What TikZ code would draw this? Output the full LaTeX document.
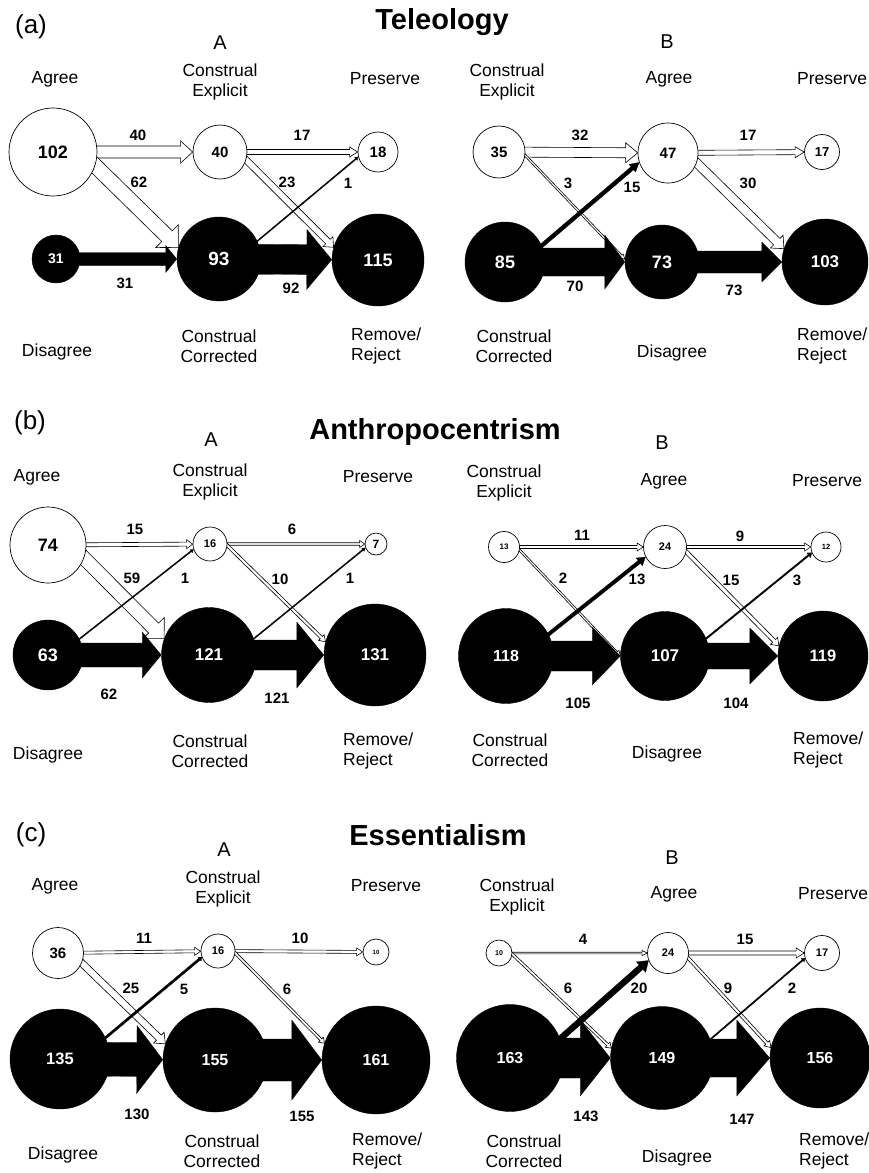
\documentclass[tikz,border=0pt]{standalone}
\usepackage{fontspec}
\setmainfont{Liberation Sans}
\usetikzlibrary{calc}
\pgfdeclarelayer{back}
\pgfsetlayers{back,main}
\tikzset{
	wcirc/.style={circle, draw=black, line width=0.7pt, fill=white, inner sep=0pt, minimum size=#1},
	bcirc/.style={circle, draw=black, fill=black, text=white, inner sep=0pt, minimum size=#1},
	cnt/.style={font=\bfseries\fontsize{#1}{#1}\selectfont},
	cat/.style={font=\fontsize{17.5}{20}\selectfont, align=center, inner sep=0pt},
	catl/.style={cat, align=left, anchor=west},
	side/.style={font=\fontsize{20}{22}\selectfont, inner sep=0pt},
	panel/.style={font=\fontsize{26}{28}\selectfont, inner sep=0pt},
	headline/.style={font=\bfseries\fontsize{29}{31}\selectfont, inner sep=0pt},
	num/.style={font=\bfseries\fontsize{15}{17}\selectfont, inner sep=0pt},
	hollowflow/.style={draw=black, line width=0.6pt, fill=white, line join=miter},
	blackflow/.style={draw=black, line width=0.2pt, fill=black},
}
% style, from, to, half shaft, half head, head length
\newcommand{\flowarr}[6]{%
	\path (#2) -- (#3) coordinate[pos=0] (fa) coordinate[pos=1] (fb);
	\coordinate (fd) at ($(fa)!-#5!(fb)$);
	\coordinate (fc) at ($(fb)!#6!(fa)$);
	\draw[#1] ($(fd)!#4!90:(fb)$) -- ($(fc)!#4!90:(fb)$) -- ($(fc)!#5!90:(fb)$) -- (fb)
		-- ($(fc)!#5!-90:(fb)$) -- ($(fc)!#4!-90:(fb)$) -- ($(fd)!#4!-90:(fb)$) -- cycle;
}

\begin{document}
\begin{tikzpicture}[x=1pt, y=-1pt]
	\useasboundingbox (0,0) rectangle (868,1173);
	\begin{pgfonlayer}{back}
		\fill[white] (0,0) rectangle (868,1173);
	\end{pgfonlayer}

	% (a) Teleology
	\node[panel] (tpan) at (31,27) {(a)};
	\node[headline] (thead) at (442,22) {Teleology};
	\node[side] (tAlab) at (220,43) {A};
	\node[cat] (tAagl) at (55,79) {Agree};
	\node[cat] (tAexl) at (220,82) {Construal\\Explicit};
	\node[cat] (tAprl) at (385,79) {Preserve};
	\node[cat] (tAdil) at (57,352) {Disagree};
	\node[cat] (tAcol) at (219,346) {Construal\\Corrected};
	\node[catl] (tArrl) at (351,346) {Remove/\\Reject};
	\node[wcirc=88pt, cnt=18] (tAag) at (53,152) {102};
	\node[wcirc=54pt, cnt=15] (tAex) at (220,152) {40};
	\node[wcirc=40pt, cnt=15] (tApr) at (378,152) {18};
	\node[bcirc=48pt, cnt=14] (tAdi) at (56,259) {31};
	\node[bcirc=84pt, cnt=19] (tAco) at (219,259) {93};
	\node[bcirc=92pt, cnt=18] (tArr) at (378,260) {115};
	\node[num] (tAf1) at (138,135) {40};
	\node[num] (tAf2) at (139,182) {62};
	\node[num] (tAf3) at (302,135) {17};
	\node[num] (tAf4) at (287,182) {23};
	\node[num] (tAf5) at (348,183) {1};
	\node[num] (tAf6) at (125,283) {31};
	\node[num] (tAf7) at (291,288) {92};

	\node[side] (tBlab) at (667,42) {B};
	\node[cat] (tBexl) at (507,82) {Construal\\Explicit};
	\node[cat] (tBagl) at (669,79) {Agree};
	\node[catl] (tBprl) at (797,79) {Preserve};
	\node[cat] (tBcol) at (514,346) {Construal\\Corrected};
	\node[cat] (tBdil) at (672,353) {Disagree};
	\node[catl] (tBrrl) at (797,346) {Remove/\\Reject};
	\node[wcirc=52pt, cnt=15] (tBex) at (499,152) {35};
	\node[wcirc=60pt, cnt=15] (tBag) at (668,153) {47};
	\node[wcirc=35pt, cnt=13] (tBpr) at (822,152) {17};
	\node[bcirc=80pt, cnt=18] (tBco) at (505,262) {85};
	\node[bcirc=74pt, cnt=18] (tBdi) at (662,262) {73};
	\node[bcirc=86pt, cnt=17] (tBrr) at (825,262) {103};
	\node[num] (tBf1) at (580,135) {32};
	\node[num] (tBf2) at (568,183) {3};
	\node[num] (tBf3) at (632,187) {15};
	\node[num] (tBf4) at (748,135) {17};
	\node[num] (tBf5) at (748,183) {30};
	\node[num] (tBf6) at (575,286) {70};
	\node[num] (tBf7) at (734,290) {73};

	% (b) Anthropocentrism
	\node[panel] (npan) at (30,423) {(b)};
	\node[headline] (nhead) at (435,432) {Anthropocentrism};
	\node[side] (nAlab) at (211,440) {A};
	\node[cat] (nAagl) at (37,477) {Agree};
	\node[cat] (nAexl) at (210,482) {Construal\\Explicit};
	\node[cat] (nAprl) at (378,477) {Preserve};
	\node[cat] (nAdil) at (48,755) {Disagree};
	\node[cat] (nAcol) at (210,751) {Construal\\Corrected};
	\node[catl] (nArrl) at (343,751) {Remove/\\Reject};
	\node[wcirc=76pt, cnt=18] (nAag) at (48,545) {74};
	\node[wcirc=34pt, cnt=11] (nAex) at (210,544) {16};
	\node[wcirc=22pt, cnt=12] (nApr) at (376,544) {7};
	\node[bcirc=70pt, cnt=18] (nAdi) at (48,655) {63};
	\node[bcirc=95pt, cnt=17] (nAco) at (209,655) {121};
	\node[bcirc=102pt, cnt=17] (nArr) at (375,655) {131};
	\node[num] (nAf1) at (135,529) {15};
	\node[num] (nAf2) at (132,578) {59};
	\node[num] (nAf3) at (185,578) {1};
	\node[num] (nAf4) at (292,529) {6};
	\node[num] (nAf5) at (280,579) {10};
	\node[num] (nAf6) at (350,578) {1};
	\node[num] (nAf7) at (109,694) {62};
	\node[num] (nAf8) at (277,698) {121};

	\node[side] (nBlab) at (662,443) {B};
	\node[cat] (nBexl) at (504,483) {Construal\\Explicit};
	\node[cat] (nBagl) at (664,481) {Agree};
	\node[catl] (nBprl) at (792,481) {Preserve};
	\node[cat] (nBcol) at (510,750) {Construal\\Corrected};
	\node[cat] (nBdil) at (667,754) {Disagree};
	\node[catl] (nBrrl) at (793,750) {Remove/\\Reject};
	\node[wcirc=31pt, cnt=8] (nBex) at (504,547) {13};
	\node[wcirc=43pt, cnt=11] (nBag) at (665,547) {24};
	\node[wcirc=30pt, cnt=7.5] (nBpr) at (826,547) {12};
	\node[bcirc=95pt, cnt=16] (nBco) at (506,656) {118};
	\node[bcirc=89pt, cnt=17] (nBdi) at (665,656) {107};
	\node[bcirc=90pt, cnt=16.5] (nBrr) at (823,656) {119};
	\node[num] (nBf1) at (582,535) {11};
	\node[num] (nBf2) at (563,578) {2};
	\node[num] (nBf3) at (637,579) {13};
	\node[num] (nBf4) at (740,536) {9};
	\node[num] (nBf5) at (731,580) {15};
	\node[num] (nBf6) at (797,580) {3};
	\node[num] (nBf7) at (578,703) {105};
	\node[num] (nBf8) at (736,703) {104};

	% (c) Essentialism
	\node[panel] (epan) at (31,835) {(c)};
	\node[headline] (ehead) at (438,835) {Essentialism};
	\node[side] (eAlab) at (224,850) {A};
	\node[cat] (eAagl) at (55,886) {Agree};
	\node[cat] (eAexl) at (223,889) {Construal\\Explicit};
	\node[cat] (eAprl) at (386,886) {Preserve};
	\node[cat] (eAdil) at (63,1155) {Disagree};
	\node[cat] (eAcol) at (222,1151) {Construal\\Corrected};
	\node[catl] (eArrl) at (352,1151) {Remove/\\Reject};
	\node[wcirc=51pt, cnt=15] (eAag) at (58,953) {36};
	\node[wcirc=34pt, cnt=11] (eAex) at (218,951) {16};
	\node[wcirc=26pt, cnt=6] (eApr) at (376,952) {10};
	\node[bcirc=100pt, cnt=16.5] (eAdi) at (60,1059) {135};
	\node[bcirc=104pt, cnt=16] (eAco) at (215,1060) {155};
	\node[bcirc=108pt, cnt=16] (eArr) at (376,1060) {161};
	\node[num] (eAf1) at (144,938) {11};
	\node[num] (eAf2) at (131,988) {25};
	\node[num] (eAf3) at (184,989) {5};
	\node[num] (eAf4) at (300,938) {10};
	\node[num] (eAf5) at (287,989) {6};
	\node[num] (eAf6) at (137,1114) {130};
	\node[num] (eAf7) at (302,1116) {155};

	\node[side] (eBlab) at (672,858) {B};
	\node[cat] (eBexl) at (517,897) {Construal\\Explicit};
	\node[cat] (eBagl) at (674,894) {Agree};
	\node[catl] (eBprl) at (798,894) {Preserve};
	\node[cat] (eBcol) at (524,1151) {Construal\\Corrected};
	\node[cat] (eBdil) at (677,1158) {Disagree};
	\node[catl] (eBrrl) at (799,1151) {Remove/\\Reject};
	\node[wcirc=26pt, cnt=7] (eBex) at (499,953) {10};
	\node[wcirc=41pt, cnt=11] (eBag) at (668,953) {24};
	\node[wcirc=35pt, cnt=11] (eBpr) at (822,953) {17};
	\node[bcirc=107pt, cnt=16] (eBco) at (510,1058) {163};
	\node[bcirc=103pt, cnt=16] (eBdi) at (662,1058) {149};
	\node[bcirc=100pt, cnt=16] (eBrr) at (820,1058) {156};
	\node[num] (eBf1) at (583,939) {4};
	\node[num] (eBf2) at (568,988) {6};
	\node[num] (eBf3) at (639,988) {20};
	\node[num] (eBf4) at (745,939) {15};
	\node[num] (eBf5) at (728,988) {9};
	\node[num] (eBf6) at (792,988) {2};
	\node[num] (eBf7) at (586,1116) {143};
	\node[num] (eBf8) at (742,1119) {147};

	\begin{pgfonlayer}{back}
		\flowarr{hollowflow}{tAag}{tAex}{6pt}{11pt}{12pt}
		\flowarr{hollowflow}{tAag.-18}{tAco.164}{7.5pt}{16pt}{16pt}
		\flowarr{hollowflow}{tAex}{tApr}{2.5pt}{5pt}{8pt}
		\flowarr{hollowflow}{tAex.-17}{tArr.164}{3.25pt}{7pt}{8pt}
		\flowarr{blackflow}{tAdi}{tAco}{6.5pt}{13.5pt}{11pt}
		\flowarr{blackflow}{tAco}{tArr}{15pt}{30pt}{25pt}
		\flowarr{blackflow}{tAco.25}{tApr.194}{0.6pt}{2pt}{3pt}

		\flowarr{hollowflow}{tBex}{tBag}{5pt}{10pt}{12pt}
		\flowarr{hollowflow}{tBex.-7}{tBdi.176}{1pt}{2.5pt}{5pt}
		\flowarr{hollowflow}{tBag}{tBpr}{2.5pt}{5.5pt}{9pt}
		\flowarr{hollowflow}{tBag.-19}{tBrr.162}{4.5pt}{9pt}{10pt}
		\flowarr{blackflow}{tBco}{tBdi}{14pt}{27pt}{20pt}
		\flowarr{blackflow}{tBdi}{tBrr}{11pt}{20pt}{20pt}
		\flowarr{blackflow}{tBco.24}{tBag.198}{2pt}{5pt}{9pt}

		\flowarr{hollowflow}{nAag}{nAex}{2pt}{4.5pt}{6pt}
		\flowarr{hollowflow}{nAag.-20}{nAco.160}{7pt}{15pt}{15pt}
		\flowarr{hollowflow}{nAex}{nApr}{1.25pt}{3.5pt}{5pt}
		\flowarr{hollowflow}{nAex.-5}{nArr.165}{1.5pt}{4pt}{6pt}
		\flowarr{blackflow}{nAdi}{nAco}{12pt}{23pt}{19pt}
		\flowarr{blackflow}{nAco}{nArr}{15pt}{33pt}{27pt}
		\flowarr{blackflow}{nAdi.27}{nAex.198}{0.6pt}{2pt}{3pt}
		\flowarr{blackflow}{nAco.20}{nApr.200}{0.6pt}{2pt}{3pt}

		\flowarr{hollowflow}{nBex}{nBag}{1.5pt}{4pt}{6pt}
		\flowarr{hollowflow}{nBex.-11}{nBdi.180}{1pt}{3pt}{5pt}
		\flowarr{hollowflow}{nBag}{nBpr}{1.5pt}{4pt}{6pt}
		\flowarr{hollowflow}{nBag.-13}{nBrr.167}{2pt}{5pt}{7pt}
		\flowarr{blackflow}{nBco}{nBdi}{15pt}{29pt}{28pt}
		\flowarr{blackflow}{nBdi}{nBrr}{13pt}{28pt}{28pt}
		\flowarr{blackflow}{nBco.27}{nBag.207}{1.8pt}{5pt}{8pt}
		\flowarr{blackflow}{nBdi.23}{nBpr.202}{0.8pt}{3pt}{4pt}

		\flowarr{hollowflow}{eAag}{eAex}{1.5pt}{4pt}{6pt}
		\flowarr{hollowflow}{eAag.-23}{eAco.162}{3.5pt}{7.5pt}{9pt}
		\flowarr{hollowflow}{eAex}{eApr}{1.5pt}{4pt}{6pt}
		\flowarr{hollowflow}{eAex.-7}{eArr.162}{1.3pt}{3.5pt}{5pt}
		\flowarr{blackflow}{eAdi}{eAco}{17pt}{34pt}{26pt}
		\flowarr{blackflow}{eAco}{eArr}{21pt}{40pt}{30pt}
		\flowarr{blackflow}{eAdi.25}{eAex.201}{1.2pt}{2.5pt}{3pt}

		\flowarr{hollowflow}{eBex}{eBag}{0.8pt}{2.5pt}{5pt}
		\flowarr{hollowflow}{eBex.-5}{eBdi.169}{1.3pt}{3.5pt}{5pt}
		\flowarr{hollowflow}{eBag}{eBpr}{2pt}{5pt}{8pt}
		\flowarr{hollowflow}{eBag.-14}{eBrr.168}{1.5pt}{4pt}{6pt}
		\flowarr{blackflow}{eBco}{eBdi}{20pt}{38pt}{30pt}
		\flowarr{blackflow}{eBdi}{eBrr}{19pt}{38pt}{33pt}
		\flowarr{blackflow}{eBco.21}{eBag.201}{3pt}{7pt}{10pt}
		\flowarr{blackflow}{eBdi.21}{eBpr.197}{0.7pt}{2.5pt}{3pt}
	\end{pgfonlayer}
\end{tikzpicture}
\end{document}
